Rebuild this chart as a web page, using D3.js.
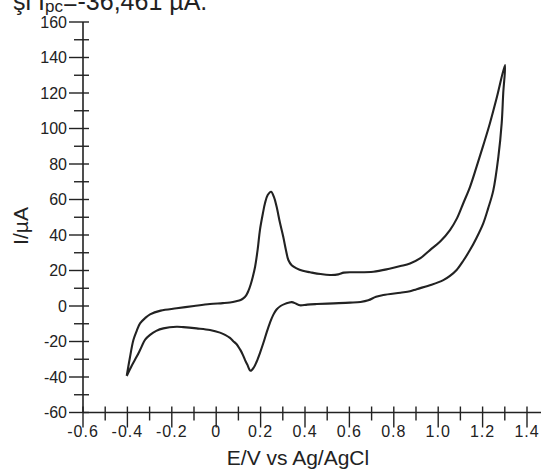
<!DOCTYPE html>
<html>
<head>
<meta charset="utf-8">
<script src="https://cdn.jsdelivr.net/npm/d3@7"></script>
<style>
html,body{margin:0;padding:0;background:#fff;}
svg{display:block;}
text{font-family:"Liberation Sans",Arial,sans-serif;fill:#222;}
</style>
</head>
<body>
<svg id="chart" width="549" height="471"></svg>
<script>
// ---- data ----
const forwardE = [-0.403,-0.39,-0.373,-0.358,-0.343,-0.32,-0.298,-0.25,-0.178,-0.1,-0.028,0.03,0.062,0.09,0.11,0.122,0.135,0.145,0.155,0.165,0.175,0.187,0.197,0.21,0.22,0.232,0.247,0.26,0.272,0.287,0.302,0.315,0.325,0.34,0.362,0.39,0.423,0.47,0.513,0.55,0.575,0.62,0.708,0.78,0.83,0.873,0.92,0.963,1.01,1.053,1.085,1.113,1.143,1.173,1.203,1.233,1.265,1.301];
const forwardI = [-39.4,-30,-19.2,-14,-9.8,-6.8,-4.7,-2.6,-1.3,0,1.1,1.6,2.0,2.7,3.4,4.3,6,8.5,12,16.5,22,32,42.8,52,58,62.5,64.4,61.5,56,47,39,31,25.9,23,21.2,19.8,19,18,17.5,17.8,18.8,19,19.3,21,22.5,24,27,31.5,36.5,42.8,49.5,57.9,67,78.5,90.5,103,118,135.8];
const reverseE = [1.301,1.293,1.286,1.271,1.248,1.225,1.203,1.173,1.143,1.113,1.083,1.053,1.023,0.97,0.903,0.873,0.83,0.753,0.72,0.685,0.65,0.603,0.53,0.453,0.41,0.377,0.36,0.34,0.325,0.31,0.29,0.272,0.257,0.242,0.227,0.212,0.197,0.182,0.17,0.155,0.14,0.13,0.12,0.11,0.1,0.09,0.077,0.062,0.04,0.017,-0.028,-0.088,-0.148,-0.178,-0.238,-0.27,-0.298,-0.32,-0.343,-0.358,-0.38,-0.403];
const reverseI = [135.8,120,103,84,65,55,46.6,38.5,31.5,25.5,20.3,17,14.6,12,9.5,8.3,7.5,6.2,5.2,3.2,2.3,1.9,1.5,1.1,0.8,0.4,1.3,2.2,1.8,1.2,0,-2.0,-5,-9.5,-15,-21,-26.5,-31.4,-34.5,-36.5,-33,-30.5,-27.5,-25,-23,-21.3,-19.8,-18,-16.3,-15,-13.5,-12.6,-11.9,-11.7,-12.6,-14,-16.3,-19,-24.8,-28.5,-33.5,-39.4];
const xMajor = [-0.6,-0.4,-0.2,0,0.2,0.4,0.6,0.8,1.0,1.2,1.4];
const xMajorLabels = ["-0.6","-0.4","-0.2","0","0.2","0.4","0.6","0.8","1.0","1.2","1.4"];
const xMinor = [-0.5,-0.3,-0.1,0.1,0.3,0.5,0.7,0.9,1.1,1.3];
const yMajor = [-60,-40,-20,0,20,40,60,80,100,120,140,160];
const yMinor = [-50,-30,-10,10,30,50,70,90,110,130,150];
const xTitle = "E/V vs Ag/AgCl";
const yTitle = "I/µA";

// ---- chart ----
const svg = d3.select("#chart");
const x = d3.scaleLinear().domain([-0.6, 1.4]).range([83, 527]);
const y = d3.scaleLinear().domain([-60, 160]).range([412.5, 22]);
const ink = "#222";

// top (cropped) caption
const cap = svg.append("text").attr("x", 13).attr("y", 10).style("font-size", "25px");
cap.append("tspan").text("şi I");
cap.append("tspan").attr("dy", 2).style("font-size", "17px").text("pc");
cap.append("tspan").attr("dy", -2).text("=-36,461 µA.");

// axes lines
svg.append("line").attr("x1", x(-0.6)).attr("x2", x(-0.6)).attr("y1", y(-60)).attr("y2", y(160))
  .attr("stroke", ink).attr("stroke-width", 1.6);
svg.append("line").attr("x1", x(-0.6)).attr("x2", x(1.4) + 14).attr("y1", y(-60)).attr("y2", y(-60))
  .attr("stroke", ink).attr("stroke-width", 1.6);

// y ticks
const gy = svg.append("g");
gy.selectAll("line.maj").data(yMajor).join("line")
  .attr("x1", x(-0.6) - 14).attr("x2", x(-0.6) + 6).attr("y1", d => y(d)).attr("y2", d => y(d))
  .attr("stroke", ink).attr("stroke-width", 1.4);
gy.selectAll("line.min").data(yMinor).join("line")
  .attr("x1", x(-0.6) - 9).attr("x2", x(-0.6) + 6).attr("y1", d => y(d)).attr("y2", d => y(d))
  .attr("stroke", ink).attr("stroke-width", 1.4);
gy.selectAll("text").data(yMajor).join("text")
  .attr("x", x(-0.6) - 16).attr("y", d => y(d)).attr("dy", "0.36em")
  .attr("text-anchor", "end").style("font-size", "16px").text(d => d);

// x ticks
const gx = svg.append("g");
gx.selectAll("line.maj").data(xMajor).join("line")
  .attr("x1", d => x(d)).attr("x2", d => x(d)).attr("y1", y(-60) - 6).attr("y2", y(-60) + 15)
  .attr("stroke", ink).attr("stroke-width", 1.4);
gx.selectAll("line.min").data(xMinor).join("line")
  .attr("x1", d => x(d)).attr("x2", d => x(d)).attr("y1", y(-60) - 6).attr("y2", y(-60) + 8)
  .attr("stroke", ink).attr("stroke-width", 1.4);
gx.selectAll("text").data(xMajor).join("text")
  .attr("x", d => x(d)).attr("y", 437)
  .attr("text-anchor", "middle").style("font-size", "16px").style("letter-spacing", "1px")
  .text((d, i) => xMajorLabels[i]);

// titles
svg.append("text").attr("x", 298).attr("y", 465).attr("text-anchor", "middle")
  .style("font-size", "21px").text(xTitle);
svg.append("text").attr("transform", "translate(28,226) rotate(-90)").attr("text-anchor", "middle")
  .style("font-size", "21px").text(yTitle);

// CV curve
const pts = forwardE.map((e, i) => [e, forwardI[i]])
  .concat(reverseE.slice(1).map((e, i) => [e, reverseI[i + 1]]));
const line = d3.line().x(d => x(d[0])).y(d => y(d[1])).curve(d3.curveCatmullRom.alpha(0.5));
svg.append("path").attr("d", line(pts)).attr("fill", "none")
  .attr("stroke", ink).attr("stroke-width", 2.1).attr("stroke-linejoin", "round");
</script>
</body>
</html>
